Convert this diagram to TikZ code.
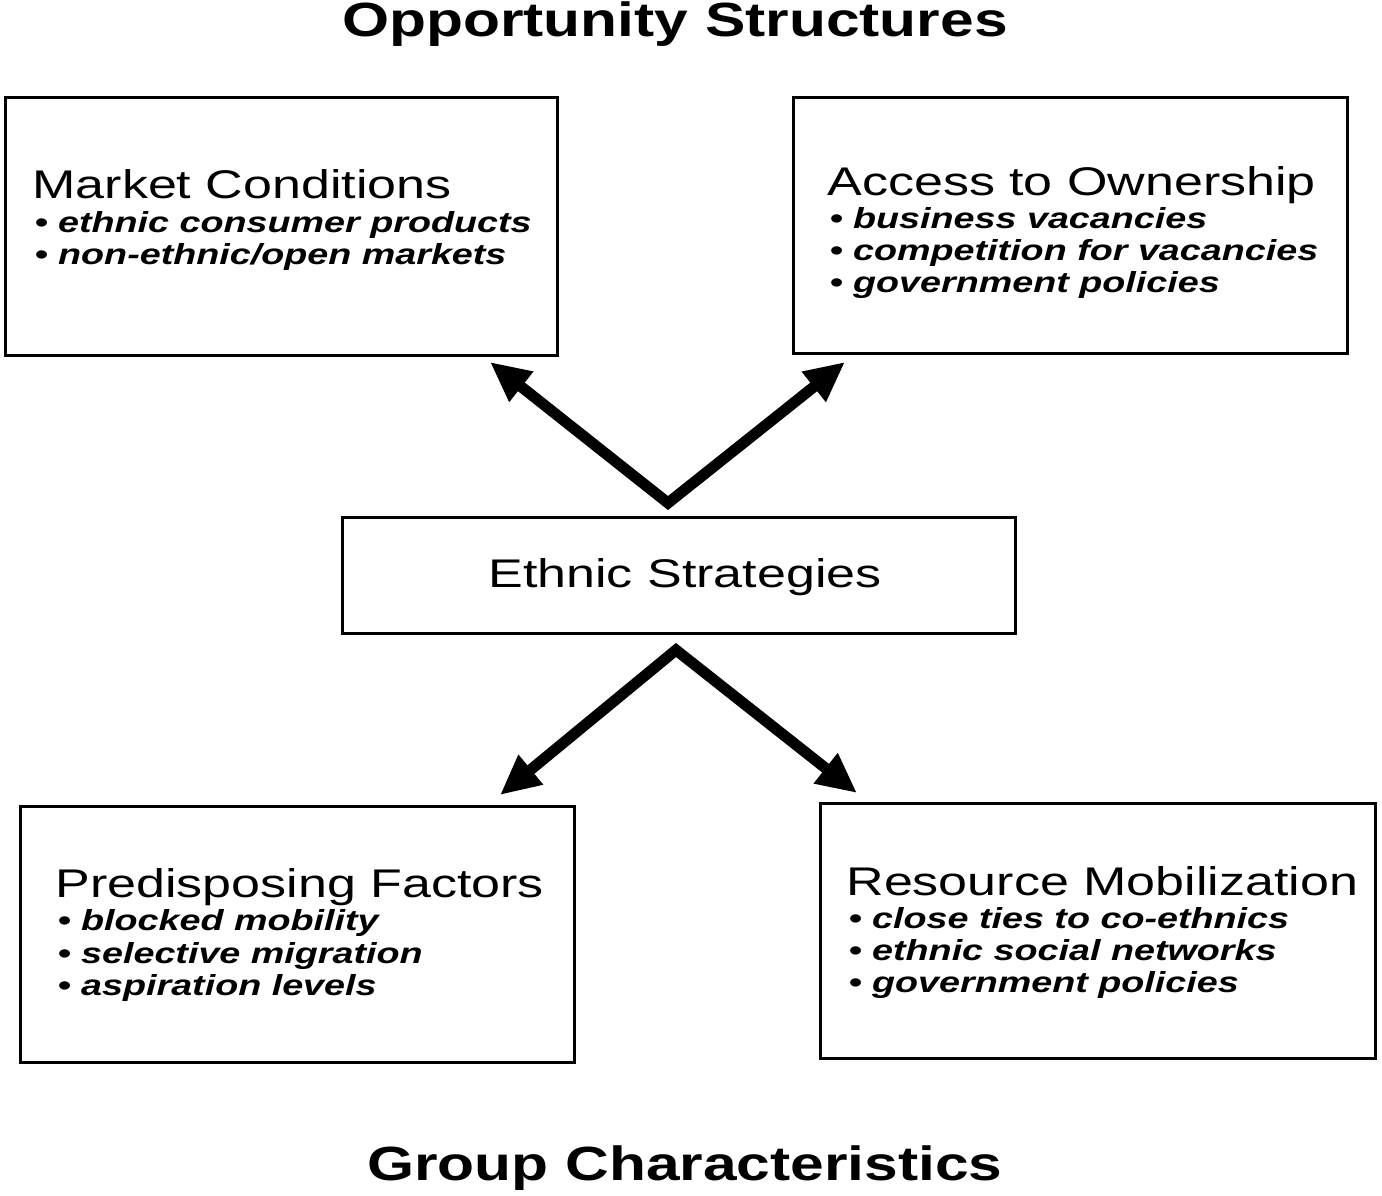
\documentclass[tikz,border=0pt]{standalone}
\usepackage{fontspec}
\setmainfont{Liberation Sans}
\usetikzlibrary{arrows.meta}
\begin{document}
\begin{tikzpicture}[x=0.5pt,y=-0.5pt,
  box/.style={draw,line width=1.5pt},
  head/.style={anchor=base west,inner sep=0pt,xscale=1.3,font=\fontsize{20}{22}\selectfont},
  item/.style={anchor=base west,inner sep=0pt,xscale=1.3,font=\fontsize{14.5}{16}\selectfont\bfseries\itshape},
  big/.style={anchor=base,inner sep=0pt,xscale=1.26,font=\fontsize{24}{28}\selectfont\bfseries},
  arr/.style={line width=5.5pt,{Triangle[length=20pt,width=18pt]}-{Triangle[length=20pt,width=18pt]},miter limit=30}]
\useasboundingbox (0,0) rectangle (1382,1195);
\node[big] (t1) at (675,36) {Opportunity Structures};
\node[big] (t2) at (685,1180) {Group Characteristics};
\draw[box] (5,97) rectangle (557,355);
\draw[box] (793,97) rectangle (1347,353);
\draw[box] (820,803) rectangle (1375,1058);
\draw[box] (20,806) rectangle (574,1062);
\draw[box] (342,517) rectangle (1015,633);
\node[inner sep=0pt,xscale=1.3,font=\fontsize{20}{22}\selectfont] (es) at (685,577) {Ethnic Strategies};
\node[head] (m) at (32,198) {Market Conditions};
\node[item] at (34,232) {• ethnic consumer products};
\node[item] at (34,264) {• non-ethnic/open markets};
\node[head] (a) at (827,195) {Access to Ownership};
\node[item] at (829,228) {• business vacancies};
\node[item] at (829,260) {• competition for vacancies};
\node[item] at (829,292) {• government policies};
\node[head] (p) at (55,897) {Predisposing Factors};
\node[item] at (57,930) {• blocked mobility};
\node[item] at (57,963) {• selective migration};
\node[item] at (57,995) {• aspiration levels};
\node[head] (r) at (846,895) {Resource Mobilization};
\node[item] at (848,928) {• close ties to co-ethnics};
\node[item] at (848,960) {• ethnic social networks};
\node[item] at (848,992) {• government policies};
\coordinate (u1) at (490,362);
\coordinate (u2) at (845,362);
\coordinate (uv) at (668,503);
\coordinate (l1) at (500,795);
\coordinate (l2) at (857,793);
\coordinate (lv) at (676,650);
\draw[arr] (u1) -- (uv) -- (u2);
\draw[arr] (l1) -- (lv) -- (l2);
\end{tikzpicture}
\end{document}
